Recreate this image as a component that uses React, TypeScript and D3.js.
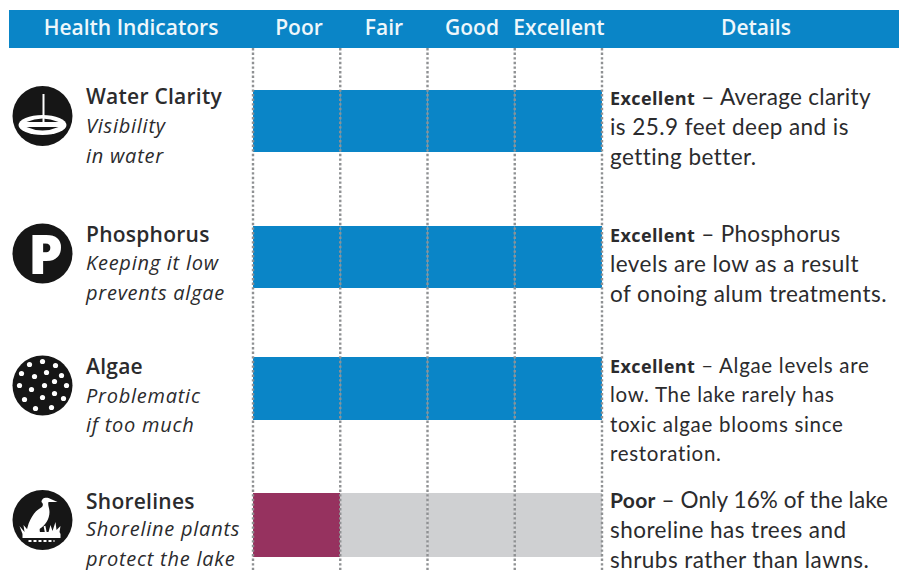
import { useEffect, useRef } from "react";
import * as d3 from "d3";

// chart data
const ratings = ["Poor", "Fair", "Good", "Excellent"];
const indicators = ["Water Clarity", "Phosphorus", "Algae", "Shorelines"];
const indicatorScores = [4, 4, 4, 1];
const subtitles = [
  ["Visibility", "in water"],
  ["Keeping it low", "prevents algae"],
  ["Problematic", "if too much"],
  ["Shoreline plants", "protect the lake"],
];
const detailLeads = ["Excellent", "Excellent", "Excellent", "Poor"];
const detailFirstLines = [" – Average clarity", " – Phosphorus", " – Algae levels are", " – Only 16% of the lake"];
const detailRest = [
  ["is 25.9 feet deep and is", "getting better."],
  ["levels are low as a result", "of onoing alum treatments."],
  ["low. The lake rarely has", "toxic algae blooms since", "restoration."],
  ["shoreline has trees and", "shrubs rather than lawns."],
];
const headerLabels = ["Health Indicators", "Details"];

const BLUE = "#0a85c7";
const MAROON = "#96325f";
const GRAY = "#cfd0d2";
const INK = "#2b2b2d";
const FONT = "Lato, 'Noto Sans', sans-serif";
const HEAD_FONT = "'Open Sans', 'Noto Sans', sans-serif";

const width = 899;
const height = 570;

function App() {
  const svgRef = useRef<SVGSVGElement>(null);

  useEffect(() => {
    const svg = d3.select(svgRef.current);
    svg.selectAll("*").remove();

    // scales for the rating columns and the indicator rows
    const x = d3.scaleBand<string>().domain(ratings).range([253, 602]);
    const rowTop = d3.scaleOrdinal<string, number>().domain(indicators).range([90, 226, 357, 493]);
    const rowHeight = d3.scaleOrdinal<string, number>().domain(indicators).range([62, 62, 63, 64]);

    svg.append("rect").attr("width", width).attr("height", height).attr("fill", "#fff");

    // header band
    svg.append("rect").attr("x", 9).attr("y", 10).attr("width", 890).attr("height", 38).attr("fill", BLUE);
    const headerText = (t: string, cx: number) =>
      svg.append("text").attr("x", cx).attr("y", 35).attr("text-anchor", "middle")
        .attr("font-family", HEAD_FONT).attr("font-size", 21).attr("font-weight", 600)
        .attr("fill", "#eef7fb").text(t);
    headerText(headerLabels[0], 131);
    headerText(headerLabels[1], 756);
    const headerCx = [299, 384, 472, 559];
    ratings.forEach((r, i) => headerText(r, headerCx[i]));

    // bars: filled up to the score, the rest in gray
    indicators.forEach((name, row) => {
      const score = indicatorScores[row];
      ratings.forEach((r, i) => {
        svg.append("rect")
          .attr("x", x(r)!)
          .attr("y", rowTop(name))
          .attr("width", x.bandwidth())
          .attr("height", rowHeight(name))
          .attr("fill", i < score ? (score === 1 ? MAROON : BLUE) : GRAY);
      });
    });

    // dotted column rules, on top of the bars
    [...ratings.map((r) => x(r)!), x.range()[1]].forEach((gx) => {
      svg.append("line")
        .attr("x1", gx).attr("x2", gx).attr("y1", 48).attr("y2", 570)
        .attr("stroke", "#8f9193").attr("stroke-width", 2.4).attr("stroke-dasharray", "2.4 2.2");
    });

    // indicator text
    const titleY = [104, 242, 374, 509];
    const subY = [[133, 163], [270, 300], [403, 432], [536, 566]];
    indicators.forEach((name, row) => {
      svg.append("text").attr("x", 86).attr("y", titleY[row])
        .attr("font-family", HEAD_FONT).attr("font-size", 21).attr("font-weight", 600)
        .attr("letter-spacing", 0.25).attr("fill", INK).text(name);
      subtitles[row].forEach((line, i) => {
        svg.append("text").attr("x", 86).attr("y", subY[row][i])
          .attr("font-family", HEAD_FONT).attr("font-size", 20).attr("font-style", "italic")
          .attr("letter-spacing", 0.75).attr("fill", INK).text(line);
      });
    });

    // details text
    const detailY = [105, 242, 373, 508];
    const lineGap = [30, 30, 29.3, 30];
    const firstSpacing = [0.3, 0.3, 0.7, 0.1];
    indicators.forEach((_, row) => {
      const big = row !== 2;
      const size = big ? 22.5 : 20.5;
      const spacing = big ? 0.45 : 0.7;
      const first = svg.append("text").attr("x", 610).attr("y", detailY[row])
        .attr("font-family", FONT).attr("font-size", size).attr("fill", INK);
      first.append("tspan")
        .attr("font-family", row === 3 ? FONT : HEAD_FONT)
        .attr("font-weight", 700)
        .attr("font-size", row === 3 ? 21 : 18)
        .attr("letter-spacing", row === 3 ? 0.3 : 0.4)
        .text(detailLeads[row]);
      first.append("tspan").attr("letter-spacing", firstSpacing[row]).text(detailFirstLines[row]);
      detailRest[row].forEach((line, i) => {
        svg.append("text").attr("x", 610).attr("y", detailY[row] + lineGap[row] * (i + 1))
          .attr("font-family", FONT).attr("font-size", size).attr("letter-spacing", spacing).attr("fill", INK).text(line);
      });
    });

    // icons
    const iconCy = [116, 253.5, 385.5, 520];
    const icon = (row: number) =>
      svg.append("g").attr("transform", `translate(42.5,${iconCy[row]})`);
    iconCy.forEach((_, row) => {
      icon(row).append("circle").attr("r", 30).attr("fill", "#161616");
    });

    // secchi disk
    const w = icon(0);
    w.append("line").attr("x1", 1).attr("x2", 1).attr("y1", -22).attr("y2", 6).attr("stroke", "#fff").attr("stroke-width", 2);
    w.append("ellipse").attr("cx", 0).attr("cy", 9).attr("rx", 24).attr("ry", 10).attr("fill", "#fff");
    w.append("path").attr("d", "M-16 6 Q0 -1 16 6 Z").attr("fill", "#161616");
    w.append("path").attr("d", "M-16 11 Q0 18 16 11 Z").attr("fill", "#161616");
    w.append("line").attr("x1", 1).attr("x2", 1).attr("y1", 0).attr("y2", 6).attr("stroke", "#fff").attr("stroke-width", 2);

    // phosphorus P
    icon(1).append("text").attr("x", 3).attr("y", 20)
      .attr("text-anchor", "middle").attr("font-family", "'Open Sans', sans-serif")
      .attr("font-weight", 800).attr("font-size", 55).attr("fill", "#fff").text("P");

    // algae dots
    const dots: [number, number][] = [
      [-13, -21], [0, -24], [13, -20],
      [-21, -12], [-8, -9], [4, -13], [19, -10],
      [-23, 0], [-11, 4], [2, 0], [12, -4], [24, 0],
      [-18, 14], [0, 12], [12, 8], [21, 13],
      [-7, 23], [9, 22],
    ];
    const a = icon(2);
    dots.forEach(([dx, dy]) => a.append("circle").attr("cx", dx).attr("cy", dy).attr("r", 2.6).attr("fill", "#fff"));

    // heron
    const h = icon(3);
    h.append("path")
      .attr("d", "M-16 12 C-14 0 -8 -9 -2 -12 C1 -14 1 -16 -1 -18 C-1 -22 3 -23 6 -22 L15 -18 L6 -18 C5 -15 7 -12 7 -8 C7 -1 3 5 -3 9 L-5 13 Z")
      .attr("fill", "#fff");
    h.append("path").attr("d", "M-4 8 L-3 16 M2 6 L4 16").attr("stroke", "#fff").attr("stroke-width", 1.8);
    h.append("path")
      .attr("d", "M-23 6 L-18 12 L-19 5 L-13 12 L6 12 L8 5 L10 11 L13 2 L14 10 L18 6 L17 12 L18 14 L18 18 L-20 18 L-20 14 Z")
      .attr("fill", "#fff");
    h.append("path").attr("d", "M-14 21 L12 21").attr("stroke", "#fff").attr("stroke-width", 2).attr("stroke-dasharray", "3 2");
  }, []);

  return (
    <svg
      ref={svgRef}
      width={width}
      height={height}
      style={{ position: "absolute", left: 0, top: 0 }}
    />
  );
}

export default App;
